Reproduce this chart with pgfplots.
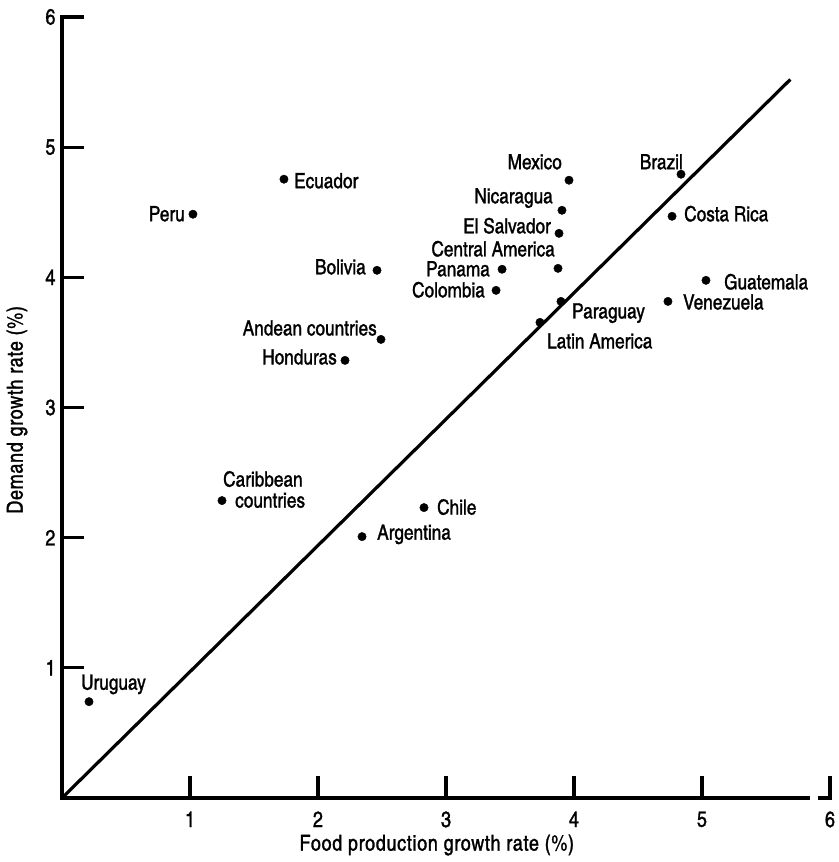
\documentclass[border=0pt]{standalone}
\usepackage{fontspec}
\setmainfont{TeX Gyre Heros Cn}[FakeBold=1.3]
\usepackage{pgfplots}
\pgfplotsset{compat=1.18}
\newcommand\lf{\fontsize{21}{24}\selectfont}
\newcommand\tf{\fontsize{22}{25}\selectfont\addfontfeature{LetterSpace=3}}
\begin{document}
\begin{tikzpicture}[lab/.style={inner sep=0pt, font=\lf}]
\begin{axis}[
  name=ax,
  scale only axis,
  width=768pt, height=781pt,
  xmin=0, xmax=6, ymin=0, ymax=6,
  axis x line=bottom, axis y line=left,
  axis line style={-, line width=3.2pt, line cap=rect},
  every outer x axis line/.append style={-},
  every outer y axis line/.append style={-},
  every inner x axis line/.append style={-},
  every inner y axis line/.append style={-},
  xtick={1,2,3,4,5,6}, ytick={1,2,3,4,5,6},
  tick align=inside,
  major tick length=22pt,
  every tick/.append style={line width=3.2pt, black},
  ticklabel style={font=\fontsize{22}{25}\selectfont},
  /pgf/number format/assume math mode=true,
  xticklabel style={yshift=-10pt},
  yticklabel style={xshift=-3pt},
  xlabel={Food production growth rate (\%)},
  ylabel={Demand growth rate (\%)},
  xlabel style={font=\tf, at={(axis description cs:0.488,0)}, anchor=center, yshift=-47pt},
  ylabel style={font=\tf, at={(axis description cs:0,0.497)}, anchor=center, yshift=45pt},
  clip=false,
]
\addplot[black, line width=3.2pt] coordinates {(0,0) (5.69,5.52)};
\addplot[only marks, mark=*, mark size=4.2pt, black] table {
x y
1.023 4.485
1.734 4.754
2.461 4.054
2.492 3.523
2.211 3.362
1.250 2.285
2.344 2.008
2.828 2.231
0.211 0.740
3.961 4.746
4.836 4.792
3.906 4.515
3.883 4.338
3.875 4.069
3.438 4.062
3.391 3.900
3.898 3.815
3.734 3.654
4.766 4.469
5.031 3.977
4.734 3.815
};
\draw[white, line width=5pt] (axis cs:5.84,0) -- (axis cs:5.91,0);
\node[lab, anchor=base east, xshift=-8pt, yshift=-7pt] at (axis cs:1.023,4.485) {Peru};
\node[lab, anchor=base west, xshift=10pt, yshift=-9pt] at (axis cs:1.734,4.754) {Ecuador};
\node[lab, anchor=base east, xshift=-11pt, yshift=-4pt] at (axis cs:2.461,4.054) {Bolivia};
\node[lab, anchor=base east, xshift=-4pt, yshift=4pt] at (axis cs:2.492,3.523) {Andean countries};
\node[lab, anchor=base east, xshift=-8pt, yshift=-4pt] at (axis cs:2.211,3.362) {Honduras};
\node[lab, anchor=base west, xshift=1pt, yshift=14pt] at (axis cs:1.250,2.285) {Caribbean};
\node[lab, anchor=base west, xshift=13pt, yshift=-7pt] at (axis cs:1.250,2.285) {countries};
\node[lab, anchor=base west, xshift=13pt, yshift=-7pt] at (axis cs:2.828,2.231) {Chile};
\node[lab, anchor=base west, xshift=15pt, yshift=-3pt] at (axis cs:2.344,2.008) {Argentina};
\node[lab, anchor=base west, xshift=-8pt, yshift=12pt] at (axis cs:0.211,0.740) {Uruguay};
\node[lab, anchor=base east, xshift=-7pt, yshift=11pt] at (axis cs:3.961,4.746) {Mexico};
\node[lab, anchor=base east, xshift=2pt, yshift=5pt] at (axis cs:4.836,4.792) {Brazil};
\node[lab, anchor=base east, xshift=-9pt, yshift=7pt] at (axis cs:3.906,4.515) {Nicaragua};
\node[lab, anchor=base east, xshift=-8pt, yshift=0pt] at (axis cs:3.883,4.338) {El Salvador};
\node[lab, anchor=base east, xshift=-3pt, yshift=12pt] at (axis cs:3.875,4.069) {Central America};
\node[lab, anchor=base east, xshift=-12pt, yshift=-7pt] at (axis cs:3.438,4.062) {Panama};
\node[lab, anchor=base east, xshift=-11pt, yshift=-7pt] at (axis cs:3.391,3.900) {Colombia};
\node[lab, anchor=base west, xshift=11pt, yshift=-17pt] at (axis cs:3.898,3.815) {Paraguay};
\node[lab, anchor=base west, xshift=7pt, yshift=-26pt] at (axis cs:3.734,3.654) {Latin America};
\node[lab, anchor=base west, xshift=12pt, yshift=-5pt] at (axis cs:4.766,4.469) {Costa Rica};
\node[lab, anchor=base west, xshift=18pt, yshift=-9pt] at (axis cs:5.031,3.977) {Guatemala};
\node[lab, anchor=base west, xshift=15pt, yshift=-8pt] at (axis cs:4.734,3.815) {Venezuela};
\end{axis}
\pgfresetboundingbox
\useasboundingbox ([shift={(-62pt,-64pt)}]ax.south west) rectangle ([shift={(8pt,17pt)}]ax.north east);
\end{tikzpicture}
\end{document}
